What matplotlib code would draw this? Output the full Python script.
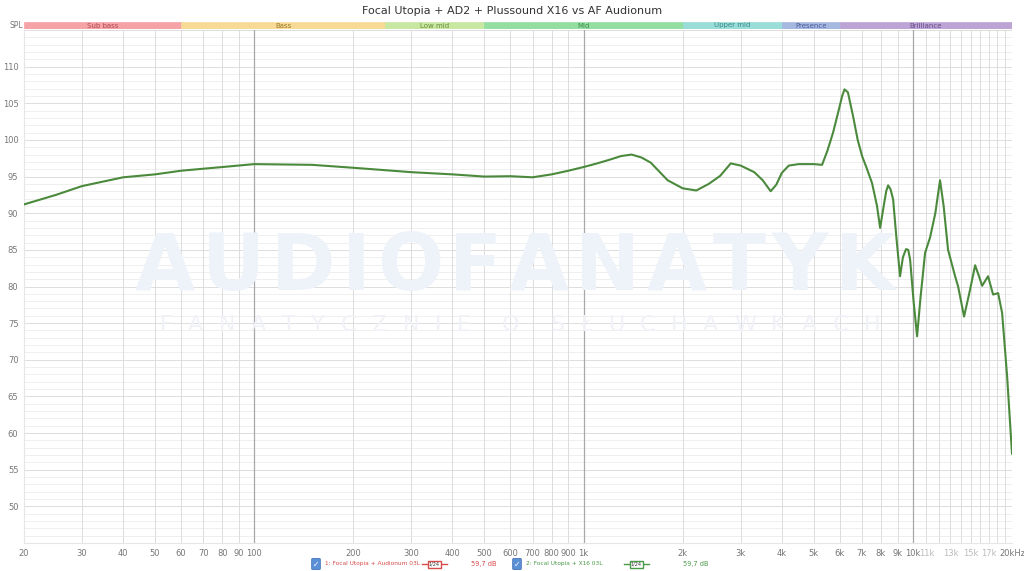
import numpy as np
import matplotlib.pyplot as plt
from matplotlib.lines import Line2D
from matplotlib.patches import Rectangle
from matplotlib.ticker import FixedLocator, NullLocator

# frequency response (Hz, dB SPL)
freq = [20, 25, 30, 40, 50, 60, 80, 100, 150, 200, 300, 400, 500, 600, 700,
        800, 900, 1000, 1100, 1200, 1300, 1400, 1500, 1600, 1800, 2000, 2200,
        2400, 2600, 2800, 3000, 3300, 3500, 3700, 3850, 4000, 4200, 4500, 5000,
        5300, 5500, 5724, 5950, 6100, 6200, 6350, 6586, 6800, 7012, 7262, 7518,
        7782, 7954, 8122, 8300, 8412, 8550, 8710, 8900, 9143, 9330, 9532, 9680,
        9808, 10050, 10300, 10550, 10893, 11280, 11700, 12092, 12400, 12790,
        13436, 13722, 14306, 14924, 15454, 15850, 16234, 16918, 17524, 18150,
        18664, 19332, 20000]
spl = [91.2, 92.5, 93.7, 94.9, 95.3, 95.8, 96.3, 96.7, 96.6, 96.2, 95.6, 95.3,
       95.0, 95.05, 94.9, 95.3, 95.8, 96.3, 96.8, 97.3, 97.8, 98.0, 97.6, 96.9,
       94.5, 93.4, 93.1, 94.0, 95.1, 96.8, 96.5, 95.6, 94.5, 93.0, 93.9, 95.5,
       96.5, 96.7, 96.7, 96.6, 98.5, 101.0, 104.0, 106.0, 106.9, 106.5, 103.2,
       100.0, 97.8, 96.0, 94.1, 91.0, 88.0, 90.5, 93.0, 93.8, 93.3, 91.9, 87.0,
       81.4, 84.0, 85.1, 85.0, 83.7, 78.0, 73.2, 78.5, 84.6, 86.7, 90.0, 94.5,
       91.0, 85.0, 81.4, 80.0, 75.9, 79.6, 82.9, 81.5, 80.1, 81.4, 78.9, 79.1,
       76.4, 67.7, 57.2]

bands = ['Sub bass', 'Bass', 'Low mid', 'Mid', 'Upper mid', 'Presence', 'Brilliance']
band_edges = [20, 60, 250, 500, 2000, 4000, 6000, 20000]
band_face = ['#f5a3a6', '#f6da96', '#c8e7a0', '#95dea2', '#9adcd7', '#a5b9e0', '#bca5d4']
band_text = ['#b04a50', '#9a7a2a', '#6a8a3a', '#3a8a4a', '#3a8a86', '#4a5a9a', '#6a4a8a']

xticks = [20, 30, 40, 50, 60, 70, 80, 90, 100, 200, 300, 400, 500, 600, 700,
          800, 900, 1000, 2000, 3000, 4000, 5000, 6000, 7000, 8000, 9000, 10000,
          11000, 13000, 15000, 17000, 20000]
xlabels = ['20', '30', '40', '50', '60', '70', '80', '90', '100', '200', '300',
           '400', '500', '600', '700', '800', '900', '1k', '2k', '3k', '4k', '5k',
           '6k', '7k', '8k', '9k', '10k', '11k', '13k', '15k', '17k', '20kHz']
yticks = list(range(50, 115, 5))

W, H = 1024, 571
fig = plt.figure(figsize=(W / 100, H / 100), dpi=100)
ax = fig.add_axes([24 / W, 28 / H, 988 / W, 513 / H])
ax.set_xscale('log')
ax.set_xlim(20, 20000)
ax.set_ylim(45, 115)

# grid
for y in range(45, 116):
    ax.axhline(y, color='#dddddd' if y % 5 == 0 else '#efefef', lw=0.7, zorder=0)
vgrid = [20, 30, 40, 50, 60, 70, 80, 90, 200, 300, 400, 500, 600, 700, 800, 900,
         2000, 3000, 4000, 5000, 6000, 7000, 8000, 9000] + list(range(11000, 20000, 1000))
for f in vgrid:
    ax.axvline(f, color='#dcdcdc', lw=0.7, zorder=0)
for f in (100, 1000, 10000):
    ax.axvline(f, color='#a8a8a8', lw=0.9, zorder=0)

# watermark, letter by letter so it can be spread like the original
renderer = fig.canvas.get_renderer()


def spread_text(s, x0, x1, yc, **kw):
    arts = [fig.text(0, yc / H, ch, va='center', ha='left', **kw) for ch in s]
    widths = [a.get_window_extent(renderer).width if ch != ' ' else 0 for a, ch in zip(arts, s)]
    gap = ((x1 - x0) - sum(widths)) / (len(s) - 1)
    x = x0
    for a, w in zip(arts, widths):
        a.set_x(x / W)
        x += w + gap


spread_text('AUDIOFANATYK', 135, 895, H - 268, fontsize=56, fontweight='bold',
            color='#eef2f9', zorder=1)
spread_text('FANATYCZNIE O SŁUCHAWKACH', 160, 880, H - 325, fontsize=16,
            color='#f0f2f7', zorder=1)

ax.plot(freq, spl, color='#4b8a3c', lw=1.5, zorder=3)
ax.patch.set_alpha(0)

ax.xaxis.set_major_locator(FixedLocator(xticks))
ax.xaxis.set_minor_locator(NullLocator())
ax.set_xticklabels(xlabels)
ax.set_yticks(yticks)
ax.tick_params(axis='both', length=0, labelsize=6, labelcolor='#777777', pad=4)
for lab, f in zip(ax.get_xticklabels(), xticks):
    if f in (11000, 13000, 15000, 17000):
        lab.set_color('#bbbbbb')
for s in ax.spines.values():
    s.set_visible(False)
for side in ('left', 'bottom'):
    ax.spines[side].set_visible(True)
    ax.spines[side].set_color('#e6e6e6')

# frequency band strip
bax = fig.add_axes([24 / W, 542 / H, 988 / W, 7 / H])
bax.set_xscale('log')
bax.set_xlim(20, 20000)
bax.set_ylim(0, 1)
bax.axis('off')
for name, lo, hi, fc, tc in zip(bands, band_edges[:-1], band_edges[1:], band_face, band_text):
    bax.add_patch(Rectangle((lo, 0), hi - lo, 1, facecolor=fc, edgecolor=fc, lw=0.5))
    bax.text(np.sqrt(lo * hi), 0.5, name, ha='center', va='center', fontsize=5,
             color=tc)

fig.text(10 / W, 1 - 25 / H, 'SPL', fontsize=5.5, color='#777777',
         ha='left', va='center')
fig.text(0.5, 1 - 11 / H, 'Focal Utopia + AD2 + Plussound X16 vs AF Audionum',
         ha='center', va='center', fontsize=8, color='#333333')

# legend row at the bottom
ly = 1 - 564 / H
legend_items = [(316, '1: Focal Utopia + Audionum 03L', '#d94a4a', 434, 471),
                (517, '2: Focal Utopia + X16 03L', '#4a9a4a', 636, 683)]
for xb, label, col, xbox, xdb in legend_items:
    fig.text(xb / W, ly, '\u2713', ha='center', va='center', fontsize=5.5,
             color='white', bbox=dict(boxstyle='round,pad=0.15', fc='#5b8fd6',
                                      ec='#3a6ab0', lw=0.5))
    fig.text((xb + 9) / W, ly, label, ha='left', va='center', fontsize=4.2,
             color=col)
    fig.add_artist(Line2D([(xbox - 12) / W, (xbox + 13) / W], [ly, ly],
                          color=col, lw=1, transform=fig.transFigure))
    fig.text(xbox / W, ly, '1/24', ha='center', va='center', fontsize=3.6,
             color='#333333', bbox=dict(boxstyle='square,pad=0.2', fc='white',
                                        ec=col, lw=1))
    fig.text(xdb / W, ly, '59,7 dB', ha='left', va='center', fontsize=4.8,
             color=col)

fig.savefig('out.png', dpi=100, facecolor='white')
